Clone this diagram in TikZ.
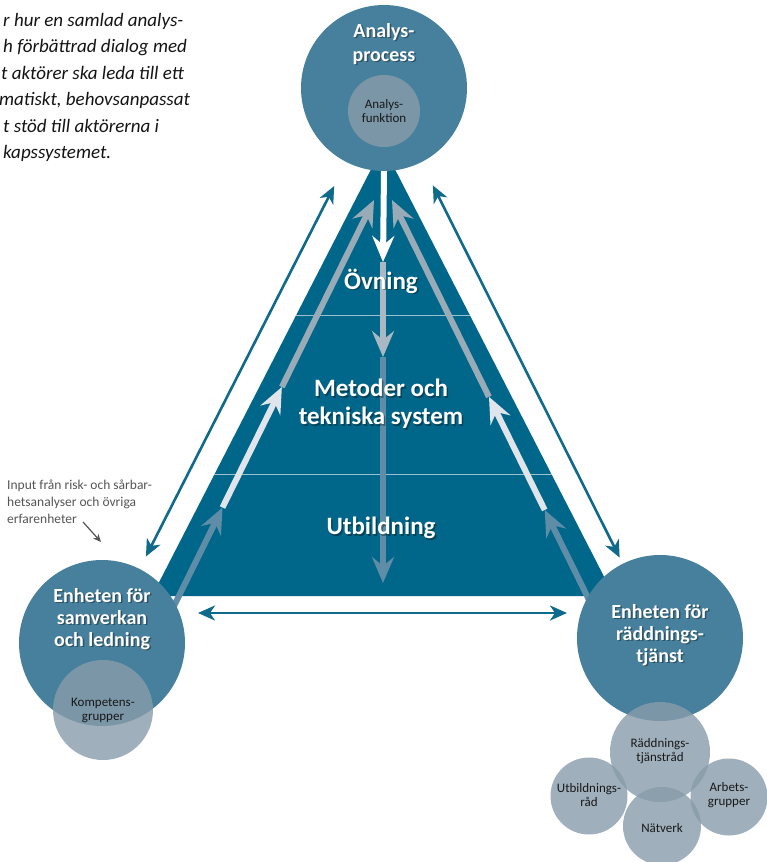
\documentclass[tikz,border=0pt]{standalone}
\usepackage{fontspec}
\setmainfont{Carlito}
\usetikzlibrary{arrows.meta,calc}

\definecolor{circblue}{HTML}{46809C}
\definecolor{tridark}{HTML}{00678A}
\definecolor{subgray}{HTML}{889CAA}
\definecolor{arrteal}{HTML}{0F6A8C}
\definecolor{steelarr}{HTML}{5F8DA7}
\definecolor{lightarr}{HTML}{DFE5EA}
\definecolor{grayarr}{HTML}{9AABB8}
\definecolor{inputgray}{HTML}{555555}

\pgfdeclarelayer{tri}
\pgfdeclarelayer{arr}
\pgfsetlayers{tri,arr,main}

\tikzset{
  bigcirc/.style={circle,fill=circblue,minimum size=166pt,inner sep=0pt},
  subcirc/.style={circle,fill=subgray,fill opacity=0.8,inner sep=0pt},
  fatarrow/.style={line width=6pt,-{Stealth[length=26pt,width=22pt,inset=9pt]}},
  thinarrow/.style={arrteal,line width=2.6pt,{Stealth[length=17pt,width=15pt,inset=5pt]}-{Stealth[length=17pt,width=15pt,inset=5pt]}},
  divline/.style={white,opacity=0.6,line width=1pt},
  pyrlbl/.style={text=white,font=\bfseries\fontsize{25}{28}\selectfont,align=center,inner sep=0pt},
  circlbl/.style={text=white,font=\bfseries\fontsize{20}{22}\selectfont,align=center,inner sep=0pt},
  sublbl/.style={text=black!90,font=\fontsize{13}{14}\selectfont,align=center,inner sep=0pt},
  introtxt/.style={text=black!92,font=\itshape\fontsize{19}{26.5}\selectfont,align=left,anchor=north west,inner sep=0pt},
  inputtxt/.style={text=inputgray,font=\fontsize{13.5}{17}\selectfont,align=left,anchor=north west,inner sep=0pt}
}

% white text with a dark shadow
\newcommand{\glowtext}[4]{%
  \node[#3,text=black,text opacity=0.35] (#1-sh) at ($(#2)+(1.5,1.5)$) {#4};
  \node[#3] (#1) at (#2) {#4};
}

\begin{document}
\begin{tikzpicture}[x=1pt,y=-1pt]
\useasboundingbox (0,0) rectangle (766,862);

% kretsar
\node[bigcirc] (analys) at (384,88) {};
\node[subcirc,minimum size=72pt] (analysfunk) at (384,111) {};
\node[bigcirc] (samverkan) at (102,643) {};
\node[subcirc,minimum size=100pt] (kompetens) at (103,710) {};
\node[bigcirc] (raddning) at (660,638) {};
\node[subcirc,minimum size=100pt] (rtrad) at (660,752) {};
\node[subcirc,minimum size=77pt] (utbrad) at (589,796) {};
\node[subcirc,minimum size=77pt] (arbgr) at (729,797) {};
\node[subcirc,minimum size=78pt] (natverk) at (662,826) {};

% pyramiden
\begin{pgfonlayer}{tri}
  \fill[white] (0,0) rectangle (766,862);
  \coordinate (apex) at (383,146);
  \coordinate (bl) at (152,596);
  \coordinate (br) at (614,596);
  \fill[tridark] (apex) -- (bl) -- (br) -- cycle;
  \begin{scope}
    \clip (apex) -- (bl) -- (br) -- cycle;
    \draw[divline] (100,315) -- (700,315);
    \draw[divline] (100,474) -- (700,474);
  \end{scope}
\end{pgfonlayer}

\begin{pgfonlayer}{arr}
  % mitten
  \coordinate (c1) at (383,262);
  \coordinate (c2) at (383,357);
  \coordinate (c3) at (383,583);
  \draw[fatarrow,steelarr] (c2) -- (c3);
  \draw[fatarrow,grayarr!85] (c1) -- (c2);
  \draw[fatarrow,white] (analys.south) -- (c1);
  % vänster
  \coordinate (l0) at (172,610);
  \coordinate (l3) at (374,200);
  \coordinate (l1) at ($(l0)!0.25!(l3)$);
  \coordinate (l2) at ($(l0)!0.544!(l3)$);
  \draw[fatarrow,grayarr] (l2) -- (l3);
  \draw[fatarrow,lightarr] (l1) -- (l2);
  \draw[fatarrow,steelarr] (l0) -- (l1);
  % höger
  \coordinate (r0) at (594,610);
  \coordinate (r3) at (392,200);
  \coordinate (r1) at ($(r0)!0.244!(r3)$);
  \coordinate (r2) at ($(r0)!0.52!(r3)$);
  \draw[fatarrow,grayarr] (r2) -- (r3);
  \draw[fatarrow,lightarr] (r1) -- (r2);
  \draw[fatarrow,steelarr] (r0) -- (r1);
  % yttre pilar
  \draw[thinarrow] ($(samverkan.center)!97pt!(analys.center)$) -- ($(analys.center)!110pt!(samverkan.center)$);
  \draw[thinarrow] ($(raddning.center)!90pt!(analys.center)$) -- ($(analys.center)!109pt!(raddning.center)$);
  \coordinate (botl) at (198,613);
  \coordinate (botr) at (567,613);
  \draw[thinarrow] (botl) -- (botr);
\end{pgfonlayer}

% texter
\glowtext{lblanalys}{384,44}{circlbl,font=\bfseries\fontsize{20}{24}\selectfont}{Analys-\\process}
\glowtext{lblovning}{381,281}{pyrlbl}{Övning}
\glowtext{lblmetod}{381,404}{pyrlbl}{Metoder och\\tekniska system}
\glowtext{lblutb}{381,528}{pyrlbl}{Utbildning}
\glowtext{lblsamv}{102,619}{circlbl}{Enheten för\\samverkan\\och ledning}
\glowtext{lblradd}{660,635}{circlbl}{Enheten för\\räddnings-\\tjänst}

\node[sublbl] (txtanalysfunk) at (analysfunk) {Analys-\\funktion};
\node[sublbl] (txtkomp) at (103,710) {Kompetens-\\grupper};
\node[sublbl] (txtrtrad) at (660,751) {Räddnings-\\tjänstråd};
\node[sublbl] (txtutbrad) at (589,795) {Utbildnings-\\råd};
\node[sublbl] (txtarbgr) at (729,795) {Arbets-\\grupper};
\node[sublbl] (txtnatverk) at (662,828) {Nätverk};

\node[introtxt] (intro) at (3,13) {r hur en samlad analys-\\h förbättrad dialog med\\\hspace*{-2pt}t aktörer ska leda till ett\\\hspace*{-4pt}matiskt, behovsanpassat\\t stöd till aktörerna i\\kapssystemet.};

\node[inputtxt] (input) at (7,480) {Input från risk- och sårbar-\\hetsanalyser och övriga\\erfarenheter};
\coordinate (inpa) at (83,522);
\coordinate (inpb) at (101,542);
\draw[inputgray,line width=1.2pt,-{Stealth[length=8pt,width=7pt]}] (inpa) -- (inpb);
\end{tikzpicture}
\end{document}
